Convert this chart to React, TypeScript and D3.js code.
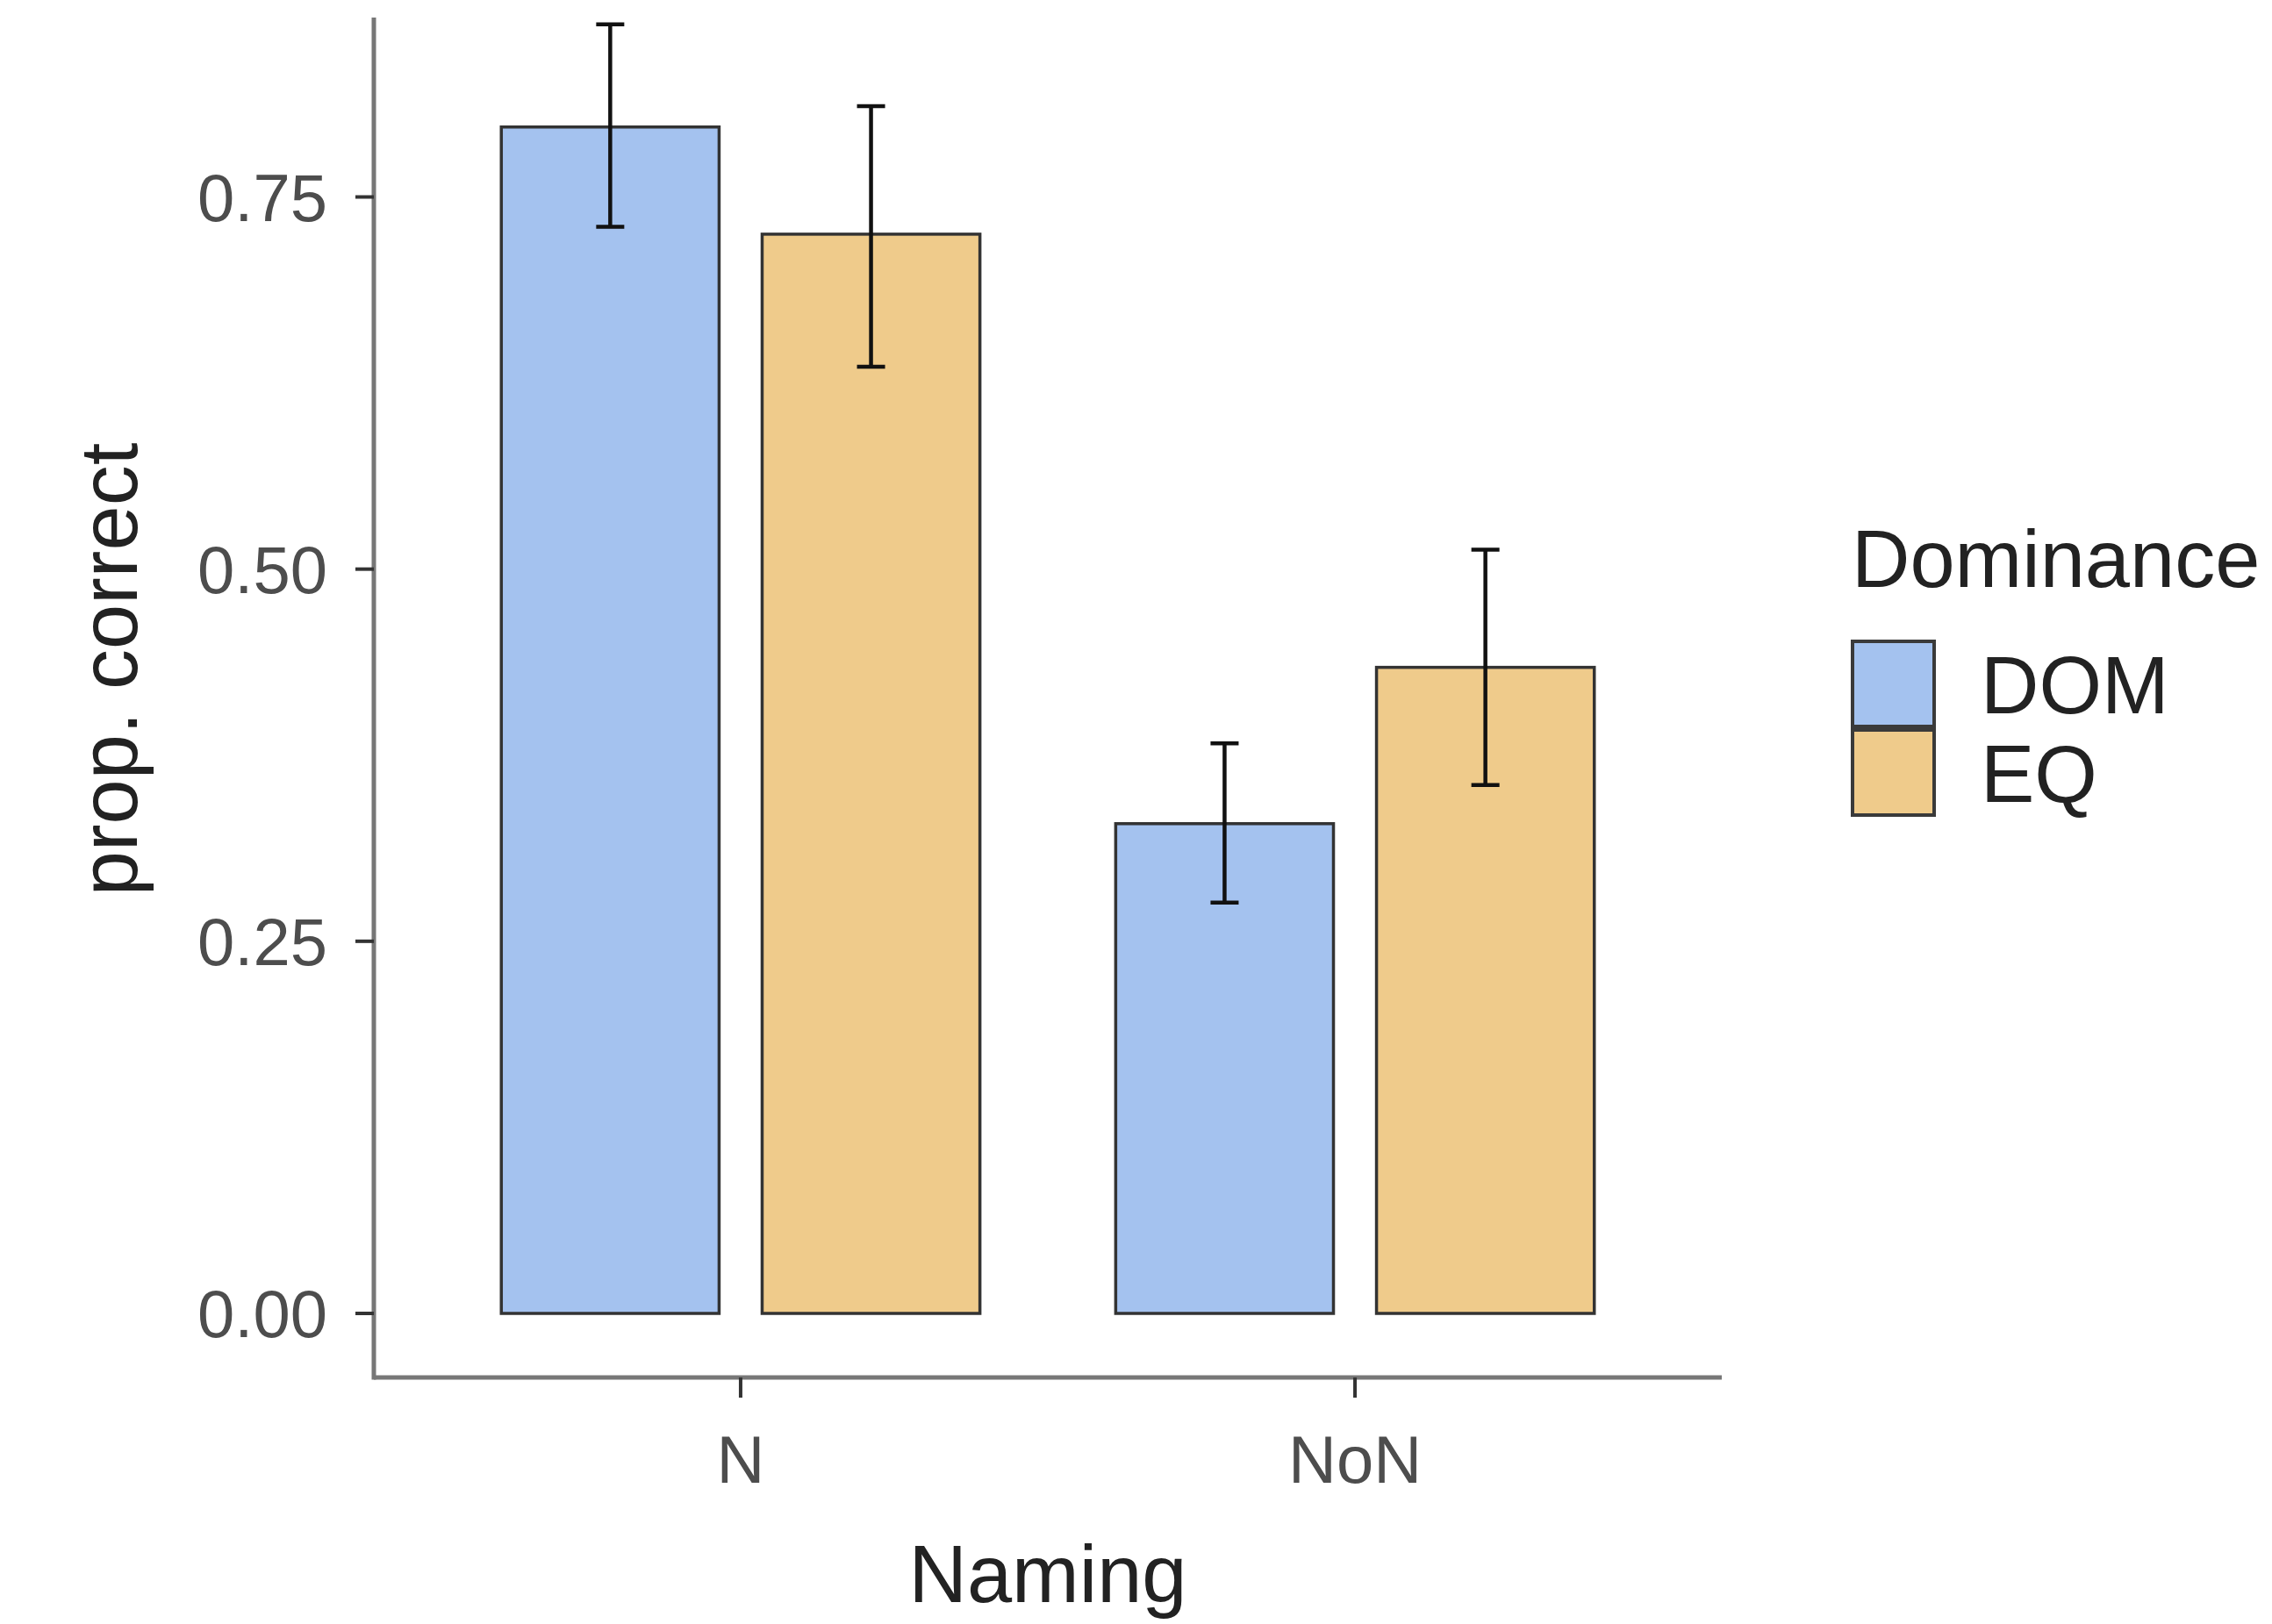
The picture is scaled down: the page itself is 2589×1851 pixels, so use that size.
import * as d3 from 'd3';

const categories = ['N', 'NoN'];
const groups = ['DOM', 'EQ'];

// mean proportion correct per naming condition, by dominance group
const domValues = [0.797, 0.329];
const eqValues = [0.725, 0.434];
// error bar ends (lower, upper)
const domLower = [0.73, 0.276];
const domUpper = [0.866, 0.383];
const eqLower = [0.636, 0.355];
const eqUpper = [0.811, 0.513];

const yTicks = [0, 0.25, 0.5, 0.75];

const groupColors = ['#a4c2ef', '#efcb8b'];

const W = 2589;
const H = 1851;
const FONT = '"Liberation Sans", Arial, Helvetica, sans-serif';

export default function App() {
	const left = 426;
	const right = 1962;
	const axisY = 1570;
	const axisTop = 20;

	const x0 = d3
		.scaleBand<string>()
		.domain(categories)
		.range([left, right])
		.paddingInner(0)
		.paddingOuter(0.097);

	const dodge = x0.step() * 0.779;
	const x1 = d3
		.scaleBand<string>()
		.domain(groups)
		.range([-dodge / 2, dodge / 2])
		.paddingInner(0.165)
		.paddingOuter(0);

	const y = d3.scaleLinear().domain([0, 0.75]).range([1497, 224.5]);

	const rows = categories.flatMap((cat, i) => [
		{ cat, group: 'DOM', value: domValues[i], lo: domLower[i], hi: domUpper[i] },
		{ cat, group: 'EQ', value: eqValues[i], lo: eqLower[i], hi: eqUpper[i] },
	]);

	const color = d3.scaleOrdinal<string, string>().domain(groups).range(groupColors);

	const capHalf = 16;
	const keySize = 97;

	return (
		<div style={{ position: 'absolute', left: 0, top: 0 }}>
			<svg width={W} height={H} style={{ display: 'block', background: '#fff' }}>
				{/* bars */}
				{rows.map((d, i) => {
					const cx = x0(d.cat)! + x0.bandwidth() / 2;
					const bx = cx + x1(d.group)!;
					return (
						<rect
							key={'b' + i}
							x={bx}
							y={y(d.value)}
							width={x1.bandwidth()}
							height={y(0) - y(d.value)}
							fill={color(d.group)}
							stroke='#333'
							strokeWidth={3.5}
						/>
					);
				})}

				{/* error bars */}
				{rows.map((d, i) => {
					const cx = x0(d.cat)! + x0.bandwidth() / 2 + x1(d.group)! + x1.bandwidth() / 2;
					return (
						<g key={'e' + i} stroke='#111' strokeWidth={4.5}>
							<line x1={cx} x2={cx} y1={y(d.lo)} y2={y(d.hi)} />
							<line x1={cx - capHalf} x2={cx + capHalf} y1={y(d.hi)} y2={y(d.hi)} />
							<line x1={cx - capHalf} x2={cx + capHalf} y1={y(d.lo)} y2={y(d.lo)} />
						</g>
					);
				})}

				{/* y axis */}
				<line x1={left} x2={left} y1={axisTop} y2={axisY + 2.5} stroke='#777' strokeWidth={5} />
				{yTicks.map((t) => (
					<g key={t}>
						<line x1={left - 21} x2={left} y1={y(t)} y2={y(t)} stroke='#333' strokeWidth={4} />
						<text
							x={373}
							y={y(t)}
							dy='0.36em'
							textAnchor='end'
							fontFamily={FONT}
							fontSize={76}
							fill='#4d4d4d'>
							{d3.format('.2f')(t)}
						</text>
					</g>
				))}

				{/* x axis */}
				<line x1={left} x2={right} y1={axisY} y2={axisY} stroke='#777' strokeWidth={5} />
				{categories.map((c) => {
					const cx = x0(c)! + x0.bandwidth() / 2;
					return (
						<g key={c}>
							<line x1={cx} x2={cx} y1={axisY} y2={axisY + 23} stroke='#333' strokeWidth={4} />
							<text
								x={cx}
								y={1690}
								textAnchor='middle'
								fontFamily={FONT}
								fontSize={76}
								fill='#4d4d4d'>
								{c}
							</text>
						</g>
					);
				})}

				{/* axis titles */}
				<text
					x={(left + right) / 2}
					y={1826}
					textAnchor='middle'
					fontFamily={FONT}
					fontSize={92}
					fill='#222'>
					Naming
				</text>
				<text
					transform={`translate(156, 763) rotate(-90)`}
					textAnchor='middle'
					fontFamily={FONT}
					fontSize={92}
					fill='#222'>
					prop. correct
				</text>

				{/* legend */}
				<text x={2110} y={669} fontFamily={FONT} fontSize={92} fill='#222'>
					Dominance
				</text>
				{groups.map((g, i) => {
					const ky = 731 + i * (keySize + 4);
					return (
						<g key={g}>
							<rect
								x={2111}
								y={ky}
								width={keySize - 4}
								height={keySize}
								fill={color(g)}
								stroke='#3a3a3a'
								strokeWidth={4}
							/>
							<text
								x={2257}
								y={ky + keySize / 2}
								dy='0.36em'
								fontFamily={FONT}
								fontSize={92}
								fill='#222'>
								{g}
							</text>
						</g>
					);
				})}
			</svg>
		</div>
	);
}
